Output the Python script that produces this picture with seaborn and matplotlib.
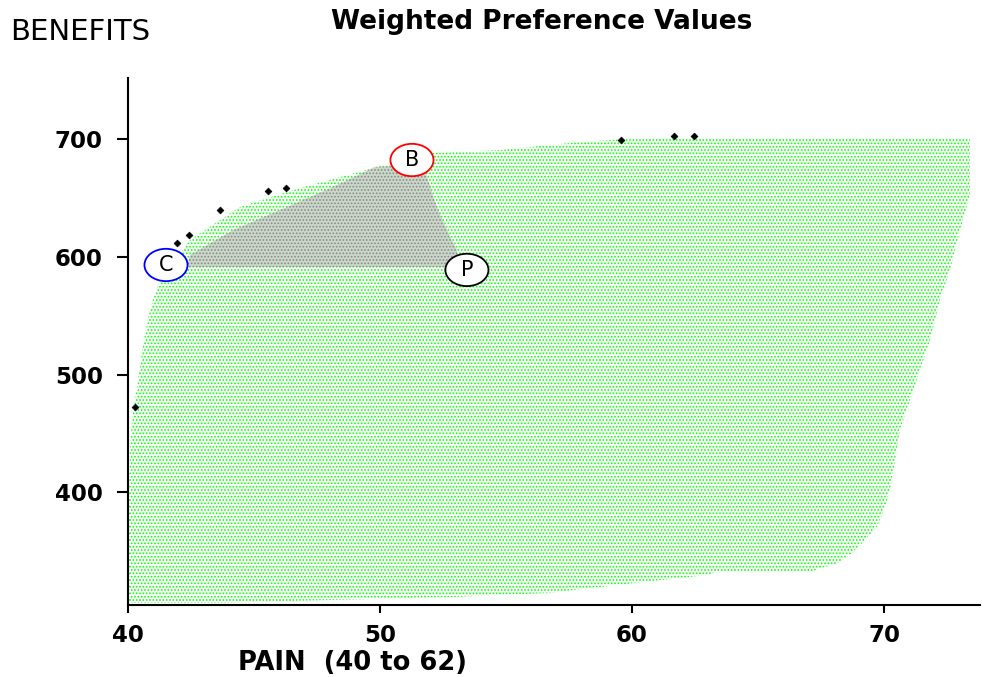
import numpy as np
import pandas as pd
import matplotlib
matplotlib.use("Agg")
import matplotlib.pyplot as plt
from matplotlib.patches import Polygon, Ellipse
import seaborn as sns

# feasible region (pain, benefits) outline, clockwise from bottom-left
region_pain = [40.04, 40.04, 40.08, 40.16, 40.40, 40.63, 40.87, 41.19, 42.46, 44.44,
               46.83, 49.88, 52.10, 54.76, 57.94, 60.24, 73.41, 73.41, 73.02, 72.62,
               72.22, 71.83, 71.43, 71.03, 70.63, 70.44, 70.24, 70.00, 69.72, 69.13,
               68.73, 68.17, 67.06, 63.37, 62.98, 61.59, 60.52, 59.13, 58.06, 56.75,
               52.90, 48.21, 43.53]
region_benefits = [306.0, 393.5, 436.0, 461.5, 495.5, 529.5, 555.0, 576.2, 614.4, 642.5,
                   658.6, 676.5, 688.4, 690.9, 697.7, 701.1, 701.1, 652.7, 622.9, 589.0,
                   563.5, 529.5, 504.0, 478.5, 453.0, 427.5, 402.0, 385.0, 370.6, 357.0,
                   348.5, 340.0, 332.4, 332.4, 329.8, 326.4, 323.9, 320.5, 317.9, 314.5,
                   311.1, 308.6, 306.0]

# compromise triangle between C, B and P
tri_pain = [42.34, 42.46, 44.17, 45.75, 48.13, 49.80, 51.71, 52.26, 52.66, 53.06, 53.06]
tri_benefits = [591.5, 601.7, 622.9, 637.4, 659.5, 676.5, 678.2, 642.5, 622.9, 605.9, 591.5]

# non-dominated points on the frontier
front_pain = [40.28, 41.94, 42.42, 43.65, 45.56, 46.27, 59.56, 61.67, 62.46]
front_benefits = [472.6, 611.9, 618.7, 639.9, 656.1, 658.6, 699.4, 702.8, 702.8]

# labelled points
labels = ["B", "C", "P"]
label_pain = [51.27, 41.51, 53.45]
label_benefits = [682.4, 593.2, 589.0]
label_colors = ["#ff0000", "#0000ff", "#000000"]

x_ticks = [40, 50, 60, 70]
y_ticks = [400, 500, 600, 700]

sns.set_style("ticks")
plt.rcParams["font.family"] = ["DejaVu Sans"]
plt.rcParams["hatch.linewidth"] = 0.8
plt.rcParams["text.color"] = "black"
plt.rcParams["xtick.color"] = "black"
plt.rcParams["ytick.color"] = "black"
plt.rcParams["axes.edgecolor"] = "black"

fig = plt.figure(figsize=(9.82, 6.77), dpi=100)
ax = fig.add_axes([0.1303, 0.1064, 0.8677, 0.7784])

region = Polygon(np.column_stack([region_pain, region_benefits]), closed=True,
                 facecolor="white", edgecolor="#00ff00", linewidth=0, hatch=".....")
ax.add_patch(region)
tri = Polygon(np.column_stack([tri_pain, tri_benefits]), closed=True,
              facecolor="#cad8ca", edgecolor="#888888", linewidth=0, hatch=".....")
ax.add_patch(tri)

front = pd.DataFrame({"pain": front_pain, "benefits": front_benefits})
sns.scatterplot(data=front, x="pain", y="benefits", ax=ax, marker="D", s=12,
                color="black", edgecolor="black", linewidth=0.5, zorder=4)

for lab, px, py, col in zip(labels, label_pain, label_benefits, label_colors):
    ax.add_patch(Ellipse((px, py), 1.71, 27.5, facecolor="white", edgecolor=col,
                         linewidth=1.3, zorder=5))
    ax.text(px, py, lab, ha="center", va="center", fontsize=15, color="black",
            fontweight="medium", zorder=6)

ax.set_xlim(40, 73.81)
ax.set_ylim(304.3, 752.1)
ax.set_xticks(x_ticks)
ax.set_yticks(y_ticks)
ax.set_xlabel("")
ax.set_ylabel("")
sns.despine(ax=ax)
for s in ["left", "bottom"]:
    ax.spines[s].set_linewidth(1.5)
ax.tick_params(axis="y", direction="out", length=8, width=1.5, pad=10,
               labelsize=16.5)
ax.tick_params(axis="x", direction="out", length=6, width=1.5, pad=8,
               labelsize=16.5)
for t in ax.get_xticklabels() + ax.get_yticklabels():
    t.set_fontweight("bold")

fig.text(542 / 982, 1 - 22 / 677, "Weighted Preference Values", ha="center",
         va="center", fontsize=19, fontweight="bold")
fig.text(10 / 982, 1 - 32 / 677, "BENEFITS", ha="left", va="center", fontsize=21)
fig.text(238 / 982, 1 - 663 / 677, "PAIN  (40 to 62)", ha="left", va="center",
         fontsize=18.5, fontweight="bold")

fig.savefig("out.png", dpi=100)
